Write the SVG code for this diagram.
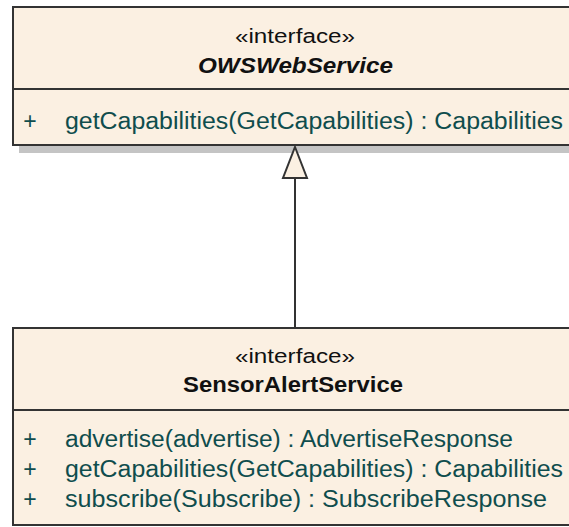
<svg xmlns="http://www.w3.org/2000/svg" width="569" height="527" viewBox="0 0 569 527">
<style>
.box{fill:#FBF0E2;stroke:#333333;stroke-width:2}
.div{stroke:#333333;stroke-width:2}
.shadow{fill:#C4C4C4}
.st{font-family:"Liberation Sans",Arial,sans-serif;font-size:20px;fill:#111111;text-anchor:middle}
.nm{font-family:"Liberation Sans",Arial,sans-serif;font-size:22px;font-weight:bold;fill:#111111;text-anchor:middle}
.op{font-family:"Liberation Sans",Arial,sans-serif;font-size:23px;fill:#0F4D4D}
.pl{font-family:"Liberation Sans",Arial,sans-serif;font-size:23px;fill:#0F4D4D;text-anchor:middle}
.conn{stroke:#333333;stroke-width:2;fill:none}
.head{fill:#FBF0E2;stroke:#333333;stroke-width:2;stroke-linejoin:miter}
</style>
<rect width="569" height="527" fill="#FFFFFF"/>
<g id="OWSWebService">
<rect class="shadow" x="19" y="146" width="560" height="7"/>
<rect class="box" x="13" y="7" width="570" height="138"/>
<line class="div" x1="13" y1="89" x2="583" y2="89"/>
<text class="st" x="295" y="43" textLength="120" lengthAdjust="spacingAndGlyphs">«interface»</text>
<text class="nm" x="295.5" y="73" font-style="italic" textLength="195" lengthAdjust="spacingAndGlyphs">OWSWebService</text>
<text class="pl" x="30" y="129">+</text>
<text class="op" x="65" y="129" textLength="498" lengthAdjust="spacingAndGlyphs">getCapabilities(GetCapabilities) : Capabilities</text>
</g>
<g id="SensorAlertService">
<rect class="box" x="13" y="328" width="570" height="197"/>
<line class="div" x1="13" y1="410" x2="583" y2="410"/>
<text class="st" x="295" y="363" textLength="120" lengthAdjust="spacingAndGlyphs">«interface»</text>
<text class="nm" x="293" y="392" textLength="220" lengthAdjust="spacingAndGlyphs">SensorAlertService</text>
<text class="pl" x="30" y="447">+</text>
<text class="op" x="65" y="447" textLength="448" lengthAdjust="spacingAndGlyphs">advertise(advertise) : AdvertiseResponse</text>
<text class="pl" x="30" y="477">+</text>
<text class="op" x="65" y="477" textLength="498" lengthAdjust="spacingAndGlyphs">getCapabilities(GetCapabilities) : Capabilities</text>
<text class="pl" x="30" y="507">+</text>
<text class="op" x="65" y="507" textLength="482" lengthAdjust="spacingAndGlyphs">subscribe(Subscribe) : SubscribeResponse</text>
</g>
<g id="connectors">
<line class="conn" x1="295" y1="178" x2="295" y2="327"/>
<polygon class="head" points="295,147 307,178 283,178"/>
</g>
</svg>
